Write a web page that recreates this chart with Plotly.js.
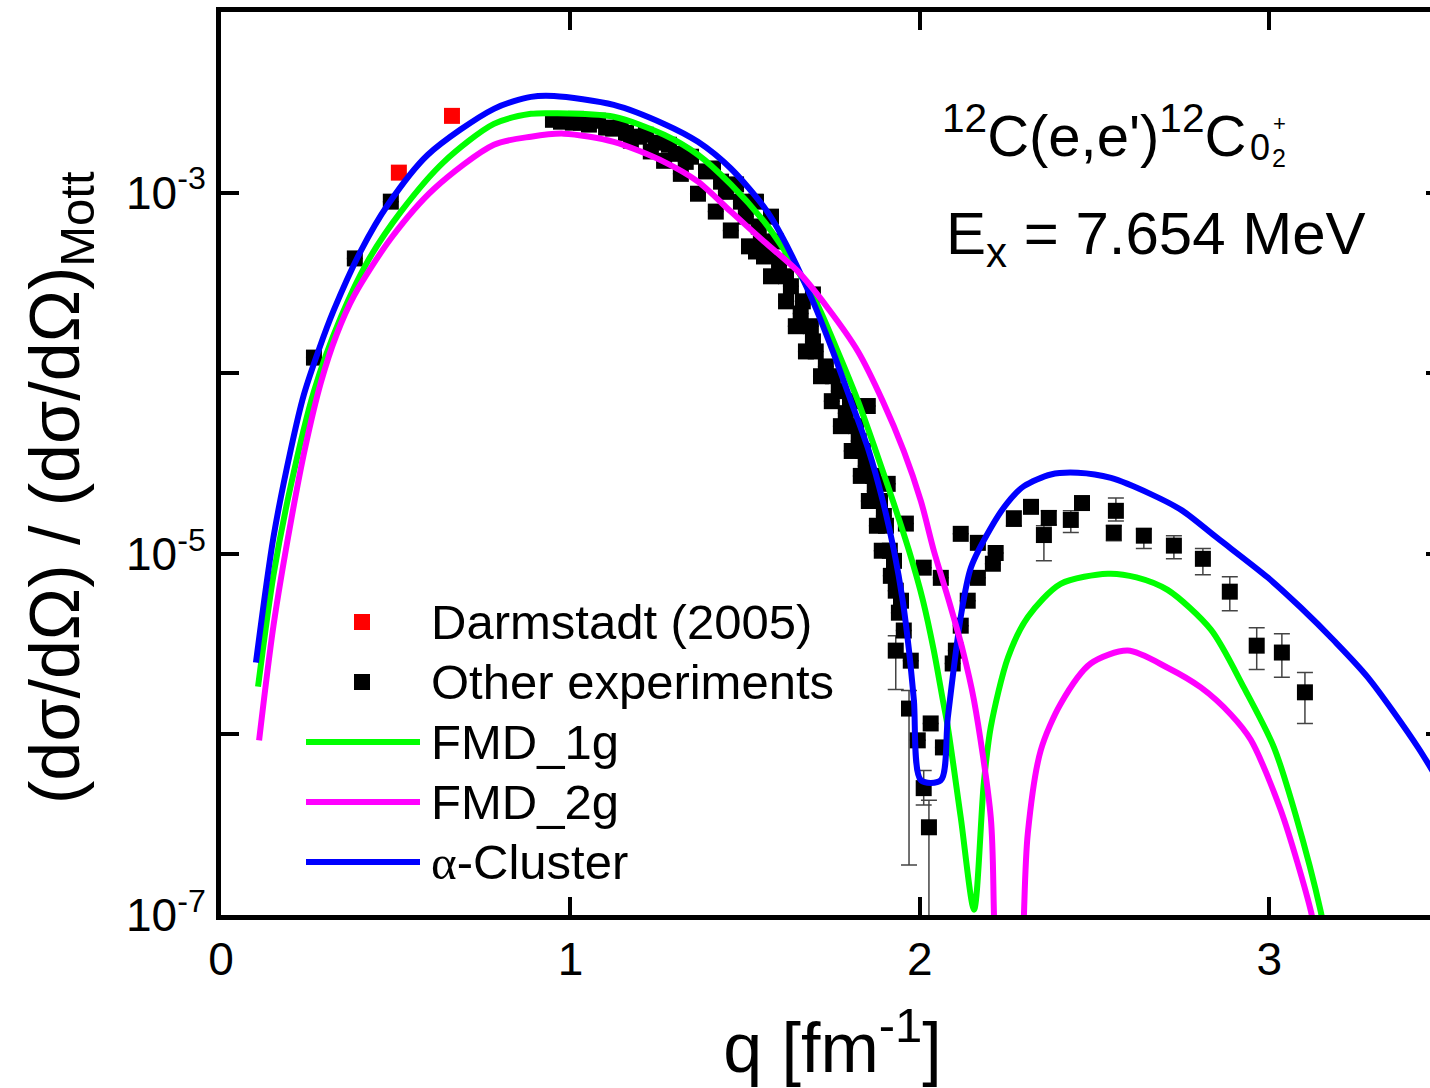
<!DOCTYPE html>
<html><head><meta charset="utf-8">
<script src="https://cdn.plot.ly/plotly-3.0.1.min.js"></script>
<style>html,body{margin:0;padding:0;overflow:hidden;background:#fff}#chart{width:1460px;height:1088px}</style>
</head><body><div id="chart"></div>
<script>
// ---- data ----
const darmQ = [0.509, 0.661];
const darmY = [1.29e-3, 2.66e-3];

const otherQ = [0.266,0.383,0.486,0.950,0.981,1.016,1.030,1.079,1.102,1.144,1.173,1.216,1.230,1.268,1.282,1.316,1.345,1.365,1.408,1.416,1.459,1.474,1.511,1.531,1.531,1.554,1.565,1.574,1.574,1.617,1.617,1.645,1.665,1.674,1.688,1.694,1.702,1.717,1.748,1.751,1.774,1.800,1.805,1.817,1.831,1.837,1.851,1.854,1.866,1.877,1.886,1.891,1.903,1.908,1.914,1.917,1.931,1.940,1.946,1.954,1.960,1.969,1.974,1.994,2.011,2.011,2.026,2.031,2.060,2.066,2.094,2.103,2.117,2.117,2.137,2.166,2.166,2.209,2.217,2.269,2.318,2.355,2.369,2.432,2.464,2.555,2.561,2.641,2.727,2.810,2.887,2.964,3.036,3.102,
  0.973,1.007,1.053,1.122,1.159,1.196,1.245,1.302,1.330,1.388,1.431,1.445,1.488,1.502,1.539,1.588,1.545,1.597,1.631,1.659,1.694,1.731,1.768,1.788,1.825,1.845,1.871,1.897,1.926,1.931];
const otherY = [1.22e-4,4.32e-4,8.91e-4,2.53e-3,2.50e-3,2.56e-3,2.44e-3,2.50e-3,2.29e-3,2.32e-3,1.94e-3,2.09e-3,1.69e-3,1.50e-3,1.84e-3,1.27e-3,1.58e-3,9.86e-4,1.36e-3,7.85e-4,6.17e-4,1.11e-3,5.04e-4,8.91e-4,4.72e-4,4.43e-4,4.72e-4,7.36e-4,3.44e-4,3.44e-4,2.50e-4,1.82e-4,2.50e-4,1.32e-4,1.82e-4,2.73e-4,1.32e-4,9.62e-5,7.00e-5,9.62e-5,5.09e-5,7.00e-5,3.71e-5,5.09e-5,2.70e-5,3.71e-5,6.58e-5,1.96e-5,2.70e-5,1.43e-5,1.96e-5,1.04e-5,1.43e-5,2.44e-5,1.04e-5,7.55e-6,2.91e-6,4.72e-6,5.50e-6,3.76e-6,1.47e-5,1.39e-6,2.56e-6,9.27e-7,8.38e-6,5.04e-7,3.06e-7,1.15e-6,7.36e-6,8.47e-7,2.47e-6,2.91e-6,4.00e-6,1.29e-5,5.50e-6,1.15e-5,7.36e-6,8.81e-6,1.01e-5,1.56e-5,1.82e-5,1.27e-5,1.58e-5,1.54e-5,1.91e-5,1.31e-5,1.73e-5,1.26e-5,1.11e-5,9.38e-6,6.17e-6,3.10e-6,2.84e-6,1.71e-6,
  2.47e-3,2.44e-3,2.38e-3,2.26e-3,2.14e-3,2.04e-3,1.89e-3,1.64e-3,1.48e-3,1.31e-3,1.15e-3,1.01e-3,8.91e-4,7.36e-4,6.49e-4,5.36e-4,5.36e-4,4.16e-4,3.03e-4,2.14e-4,1.50e-4,1.09e-4,7.96e-5,6.01e-5,4.21e-5,3.06e-5,2.23e-5,1.62e-5,9.14e-6,6.25e-6];
// lower / upper ends of the error bars (null = no visible bar)
const otherLo = [null,null,null,null,null,null,null,null,null,null,null,null,null,null,null,null,null,null,null,null,null,null,null,null,null,null,null,null,null,null,null,null,null,null,null,null,null,null,null,null,null,null,null,null,null,null,null,null,null,null,null,null,null,null,null,null,1.77e-6,null,null,null,null,1.89e-7,null,null,null,4.06e-7,1.0e-8,null,null,null,null,null,null,null,null,null,null,null,null,1.43e-5,1.69e-5,9.14e-6,1.45e-5,1.31e-5,1.77e-5,1.18e-5,1.52e-5,1.07e-5,9.38e-6,7.66e-6,4.84e-6,2.29e-6,2.07e-6,1.15e-6,
  null,null,null,null,null,null,null,null,null,null,null,null,null,null,null,null,null,null,null,null,null,null,null,null,null,null,null,null,null,null];
const otherHi = [null,null,null,null,null,null,null,null,null,null,null,null,null,null,null,null,null,null,null,null,null,null,null,null,null,null,null,null,null,null,null,null,null,null,null,null,null,null,null,null,null,null,null,null,null,null,null,null,null,null,null,null,null,null,null,null,3.52e-6,null,null,null,null,1.75e-6,null,null,null,6.32e-7,4.32e-7,null,null,null,null,null,null,null,null,null,null,null,null,1.73e-5,1.96e-5,1.43e-5,1.73e-5,1.73e-5,2.04e-5,1.43e-5,2.04e-5,1.37e-5,1.26e-5,1.07e-5,7.46e-6,3.90e-6,3.61e-6,2.20e-6,
  null,null,null,null,null,null,null,null,null,null,null,null,null,null,null,null,null,null,null,null,null,null,null,null,null,null,null,null,null,null];

const fmd1Q = [0.106,0.150,0.200,0.266,0.343,0.420,0.515,0.638,0.781,0.887,0.953,1.124,1.268,1.365,1.459,1.554,1.602,1.702,1.765,1.823,1.874,1.923,1.969,2.009,2.040,2.066,2.080,2.117,2.155,2.183,2.203,2.252,2.309,2.403,2.538,2.620,2.709,2.833,2.927,3.013,3.076,3.147,3.170];
const fmd1Y = [1.84e-6,7.59e-6,2.40e-5,7.94e-5,2.04e-4,4.17e-4,7.85e-4,1.48e-3,2.40e-3,2.73e-3,2.75e-3,2.63e-3,2.09e-3,1.62e-3,1.11e-3,6.92e-4,5.13e-4,2.50e-4,1.32e-4,7.00e-5,3.71e-5,1.96e-5,1.04e-5,5.50e-6,2.91e-6,1.54e-6,1.10e-6,3.47e-7,1.07e-7,5.37e-7,1.10e-6,2.66e-6,4.47e-6,6.82e-6,7.76e-6,7.41e-6,6.31e-6,3.80e-6,1.82e-6,8.51e-7,3.55e-7,1.05e-7,6.0e-8];

const fmd2Q = [0.109,0.150,0.200,0.240,0.286,0.330,0.381,0.486,0.610,0.781,0.887,0.981,1.124,1.268,1.365,1.459,1.554,1.651,1.737,1.823,1.894,1.954,2.003,2.040,2.083,2.123,2.155,2.203,2.212,2.230,2.280,2.298,2.309,2.346,2.403,2.489,2.595,2.709,2.804,2.890,2.947,3.033,3.119,3.140];
const fmd2Y = [9.27e-7,3.98e-6,1.51e-5,3.80e-5,8.91e-5,1.62e-4,2.69e-4,5.57e-4,1.05e-3,1.84e-3,2.04e-3,2.12e-3,1.91e-3,1.48e-3,1.15e-3,7.85e-4,5.36e-4,3.66e-4,2.29e-4,1.32e-4,7.00e-5,3.71e-5,1.96e-5,1.04e-5,5.50e-6,2.91e-6,1.54e-6,3.47e-7,1.02e-7,1.0e-9,1.0e-9,1.02e-7,2.84e-7,8.17e-7,1.48e-6,2.47e-6,2.91e-6,2.34e-6,1.82e-6,1.29e-6,9.33e-7,3.80e-7,1.05e-7,6.3e-8];

const alphaQ = [0.100,0.150,0.200,0.237,0.280,0.323,0.401,0.478,0.592,0.781,0.887,0.953,1.124,1.268,1.365,1.459,1.554,1.602,1.694,1.751,1.803,1.854,1.894,1.926,1.951,1.969,1.983,2.003,2.060,2.080,2.117,2.146,2.203,2.250,2.298,2.375,2.452,2.547,2.661,2.750,2.852,2.995,3.090,3.185,3.282,3.425,3.500];
const alphaY = [2.50e-6,1.23e-5,3.80e-5,7.59e-5,1.35e-4,2.24e-4,4.79e-4,8.59e-4,1.62e-3,2.91e-3,3.39e-3,3.43e-3,3.06e-3,2.40e-3,1.91e-3,1.36e-3,8.32e-4,5.89e-4,2.50e-4,1.32e-4,7.00e-5,3.71e-5,1.96e-5,1.04e-5,5.50e-6,2.91e-6,1.54e-6,5.57e-7,5.57e-7,1.24e-6,4.47e-6,8.38e-6,1.39e-5,1.91e-5,2.37e-5,2.75e-5,2.81e-5,2.63e-5,2.14e-5,1.74e-5,1.22e-5,7.41e-6,5.04e-6,3.31e-6,2.07e-6,8.51e-7,4.90e-7];

const legendLabels = ['Darmstadt (2005)','Other experiments','FMD_1g','FMD_2g','<span style="font-family:\'Liberation Serif\'">α</span>-Cluster'];
const xTickVals = [0,1,2,3];
const xTickText = ['0','1','2','3'];
const yTickVals = [1e-7,1e-6,1e-5,1e-4,1e-3,1e-2];
const yTickText = ['10<sup>-7</sup>','','10<sup>-5</sup>','','10<sup>-3</sup>',''];
const xTitle = 'q [fm<sup>-1</sup>]';
const yTitle = '(dσ/dΩ) / (dσ/dΩ)<sub>Mott</sub>';

// ---- build ----
const errPlus = otherY.map((y,i)=> otherHi[i]==null ? 0 : otherHi[i]-y);
const errMinus = otherY.map((y,i)=> otherLo[i]==null ? 0 : y-otherLo[i]);

const FONT = 'Liberation Sans, Arial, sans-serif';
const curveLine = (c)=>({color:c, width:6, shape:'spline', smoothing:0.8});
const traces = [
  {x: otherQ, y: otherY, type:'scatter', mode:'markers', name:'Other experiments',
   marker:{symbol:'square', size:16, color:'#000'},
   error_y:{type:'data', symmetric:false, array:errPlus, arrayminus:errMinus, color:'#444', thickness:1.5, width:8}},
  {x: darmQ, y: darmY, type:'scatter', mode:'markers', name:'Darmstadt (2005)',
   marker:{symbol:'square', size:16, color:'#ff0000'}},
  {x: fmd1Q, y: fmd1Y, type:'scatter', mode:'lines', name:'FMD_1g', line:curveLine('#00ff00')},
  {x: alphaQ, y: alphaY, type:'scatter', mode:'lines', name:'α-Cluster', line:curveLine('#0000ff')},
  {x: fmd2Q, y: fmd2Y, type:'scatter', mode:'lines', name:'FMD_2g', line:curveLine('#ff00ff')}
];

// custom legend (long line keys as in the original)
const W = 1223, H = 903;
const px = v => (v-221)/W, py = v => (915-v)/H;
const legendRows = [622, 682, 742, 802, 862];
const legendKinds = [{t:'m',c:'#ff0000'},{t:'m',c:'#000000'},{t:'l',c:'#00ff00'},{t:'l',c:'#ff00ff'},{t:'l',c:'#0000ff'}];
const shapes = [];
const annotations = [];
legendKinds.forEach((k,i)=>{
  const yy = py(legendRows[i]);
  if(k.t==='m'){
    shapes.push({type:'rect', xref:'paper', yref:'paper', xsizemode:'pixel', ysizemode:'pixel',
      xanchor:px(362), yanchor:yy, x0:-8, x1:8, y0:-8, y1:8, fillcolor:k.c, line:{width:0}});
  } else {
    shapes.push({type:'line', xref:'paper', yref:'paper', x0:px(306), x1:px(420), y0:yy, y1:yy, line:{color:k.c, width:6}});
  }
  annotations.push({xref:'paper', yref:'paper', x:px(429), y:yy, xanchor:'left', yanchor:'middle',
    text:legendLabels[i], showarrow:false, font:{family:FONT, size:49, color:'#000'}});
});

annotations.push({xref:'paper', yref:'paper', x:px(940), y:py(131), xanchor:'left', yanchor:'middle',
  text:"<sup>12</sup>C(e,e')<sup>12</sup>C", showarrow:false, font:{family:FONT, size:58, color:'#000'}});
annotations.push({xref:'paper', yref:'paper', x:px(1260), y:py(148), xanchor:'center', yanchor:'middle',
  text:'0', showarrow:false, font:{family:FONT, size:36, color:'#000'}});
annotations.push({xref:'paper', yref:'paper', x:px(1279), y:py(123), xanchor:'center', yanchor:'middle',
  text:'+', showarrow:false, font:{family:FONT, size:22, color:'#000'}});
annotations.push({xref:'paper', yref:'paper', x:px(1279), y:py(158), xanchor:'center', yanchor:'middle',
  text:'2', showarrow:false, font:{family:FONT, size:25, color:'#000'}});
annotations.push({xref:'paper', yref:'paper', x:px(944), y:py(238), xanchor:'left', yanchor:'middle',
  text:'E<sub>x</sub> = 7.654 MeV', showarrow:false, font:{family:FONT, size:60, color:'#000'}});
// y-axis title (placed as rotated text to match the original position)
annotations.push({xref:'paper', yref:'paper', x:px(60), y:py(488), xanchor:'center', yanchor:'middle',
  textangle:-90, text:yTitle, showarrow:false, font:{family:FONT, size:70, color:'#000'}});

const axisCommon = {showline:true, linecolor:'#000', linewidth:5, mirror:'allticks', ticks:'inside',
  ticklen:18, tickwidth:4, tickcolor:'#000', showgrid:false, zeroline:false,
  tickfont:{family:FONT, size:46, color:'#000'}};

const layout = {
  width:1460, height:1088,
  margin:{l:221, r:16, t:12, b:173},
  paper_bgcolor:'#fff', plot_bgcolor:'#fff',
  showlegend:false,
  font:{family:FONT, color:'#000'},
  xaxis: Object.assign({}, axisCommon, {range:[0,3.5], tickmode:'array', tickvals:xTickVals, ticktext:xTickText,
    ticklabelstandoff:0,
    title:{text:xTitle, font:{family:FONT, size:70, color:'#000'}, standoff:40}}),
  yaxis: Object.assign({}, axisCommon, {type:'log', range:[-7,-2], tickmode:'array', tickvals:yTickVals, ticktext:yTickText,
    ticklabelstandoff:1}),
  shapes: shapes,
  annotations: annotations
};

Plotly.newPlot('chart', traces, layout, {displayModeBar:false, staticPlot:true});
</script>
</body></html>
